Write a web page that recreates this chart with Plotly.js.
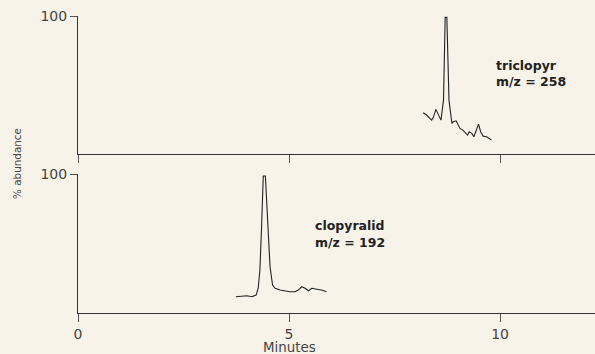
<!DOCTYPE html>
<html>
<head>
<meta charset="utf-8">
<script src="https://cdn.plot.ly/plotly-3.0.1.min.js"></script>
<style>html,body{margin:0;padding:0;background:#f7f3e8;}#chart{width:595px;height:354px;}</style>
</head>
<body>
<div id="chart"></div>
<script>
// triclopyr trace (top panel), minutes vs % abundance
const triclopyrTime = [8.18, 8.26, 8.38, 8.42, 8.48, 8.54, 8.60, 8.66, 8.70, 8.74, 8.79, 8.86, 8.89, 8.96, 9.01, 9.05, 9.12, 9.17, 9.23, 9.27, 9.33, 9.38, 9.43, 9.49, 9.54, 9.60, 9.68, 9.80];
const triclopyrAbund = [29.9, 28.3, 24.6, 26.6, 32.4, 28.3, 24.6, 39.1, 99.0, 99.0, 39.1, 22.2, 23.4, 24.1, 21.0, 18.6, 17.4, 15.5, 13.8, 16.2, 15.0, 12.6, 17.4, 21.7, 16.2, 13.0, 12.6, 10.1];
// clopyralid trace (bottom panel)
const clopyralidTime = [3.74, 3.88, 4.00, 4.12, 4.22, 4.27, 4.31, 4.35, 4.39, 4.44, 4.50, 4.55, 4.61, 4.67, 4.79, 4.91, 5.02, 5.14, 5.22, 5.30, 5.38, 5.46, 5.54, 5.66, 5.77, 5.89];
const clopyralidAbund = [11.7, 12.2, 12.4, 11.7, 12.9, 17.8, 30.9, 62.1, 98.6, 98.6, 66.9, 33.3, 20.1, 17.8, 16.5, 15.8, 15.3, 15.3, 16.5, 18.9, 17.8, 16.0, 17.8, 17.1, 16.5, 15.3];
const xTicks = [0, 5, 10];
const xTickLabels = ['0', '5', '10'];
const yTicks = [100];
const yTickLabels = ['100'];

const lineStyle = {color: '#222', width: 1.1};
const traces = [
  {x: clopyralidTime, y: clopyralidAbund, xaxis: 'x', yaxis: 'y', mode: 'lines', line: lineStyle, hoverinfo: 'none'},
  {x: triclopyrTime, y: triclopyrAbund, xaxis: 'x2', yaxis: 'y2', mode: 'lines', line: lineStyle, hoverinfo: 'none'}
];

const fontFam = 'DejaVu Sans, sans-serif';
const xBase = {
  range: [0, 12.25], showgrid: false, zeroline: false, showline: true, linecolor: '#333', linewidth: 1,
  ticks: 'outside', ticklen: 8, tickwidth: 1, tickcolor: '#555',
  tickvals: xTicks, ticktext: xTickLabels, tickfont: {family: fontFam, size: 14, color: '#444'}, fixedrange: true
};
const yBase = {
  range: [0, 100], showgrid: false, zeroline: false, showline: true, linecolor: '#333', linewidth: 1,
  ticks: 'outside', ticklen: 7, tickwidth: 1, tickcolor: '#555',
  tickvals: yTicks, ticktext: yTickLabels, tickfont: {family: fontFam, size: 14, color: '#444'}, fixedrange: true
};

const labelFont = {family: fontFam, size: 12.5, color: '#222'};
const layout = {
  width: 595, height: 354,
  margin: {l: 78, r: 0, t: 16, b: 41},
  paper_bgcolor: '#f7f3e8', plot_bgcolor: '#f7f3e8',
  showlegend: false,
  xaxis: Object.assign({}, xBase, {anchor: 'y', domain: [0, 1]}),
  yaxis: Object.assign({}, yBase, {anchor: 'x', domain: [0, 0.468]}),
  xaxis2: Object.assign({}, xBase, {anchor: 'y2', domain: [0, 1], showticklabels: false, matches: 'x'}),
  yaxis2: Object.assign({}, yBase, {anchor: 'x2', domain: [0.535, 1]}),
  annotations: [
    {text: '<b>triclopyr</b>', xref: 'x2', yref: 'y2', x: 9.86, y: 64.5, xanchor: 'left', yanchor: 'middle', showarrow: false, font: labelFont},
    {text: '<b>m/z = 258</b>', xref: 'x2', yref: 'y2', x: 9.86, y: 52.9, xanchor: 'left', yanchor: 'middle', showarrow: false, font: labelFont},
    {text: '<b>clopyralid</b>', xref: 'x', yref: 'y', x: 5.57, y: 62.6, xanchor: 'left', yanchor: 'middle', showarrow: false, font: labelFont},
    {text: '<b>m/z = 192</b>', xref: 'x', yref: 'y', x: 5.57, y: 50.4, xanchor: 'left', yanchor: 'middle', showarrow: false, font: labelFont},
    {text: 'Minutes', xref: 'x', yref: 'paper', x: 5, y: -0.117, xanchor: 'center', yanchor: 'middle', showarrow: false, font: {family: fontFam, size: 13.4, color: '#444'}},
    {text: '% abundance', xref: 'paper', yref: 'paper', x: -0.118, y: 0.505, xanchor: 'center', yanchor: 'middle', textangle: -90, showarrow: false, font: {family: fontFam, size: 10.4, color: '#444'}}
  ]
};

Plotly.newPlot('chart', traces, layout, {displayModeBar: false, staticPlot: true});
</script>
</body>
</html>
